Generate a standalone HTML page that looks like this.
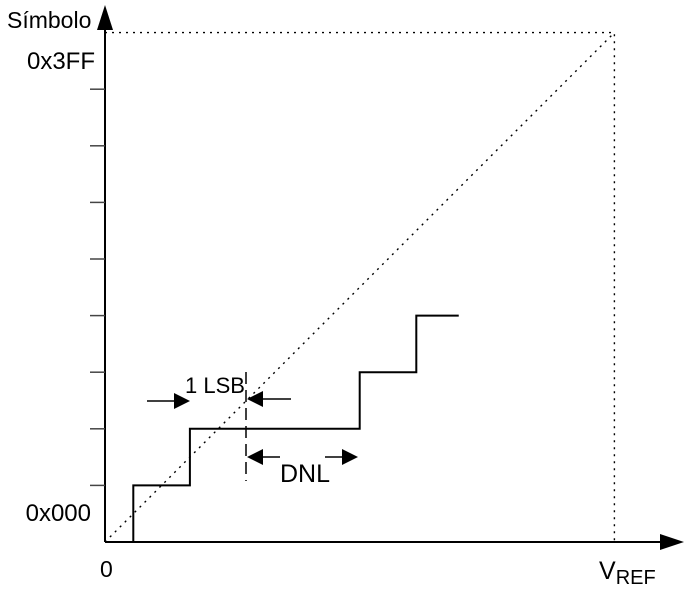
<!DOCTYPE html>
<html><head><meta charset="utf-8"><style>
html,body{margin:0;padding:0;background:#fff;}
svg{display:block;font-family:"Liberation Sans",sans-serif;}
</style></head><body>
<svg id="c" width="688" height="597" viewBox="0 0 688 597">
</svg>
<script>
const transitions = [0.5, 1.5, 4.5, 5.5];   // input (LSB units) where code steps
const codes = [0, 1, 2, 3, 4];               // output code levels
const stairEnd = 6.25;
const vref = 9;
const yTickCodes = [1, 2, 3, 4, 5, 6, 7, 8];

const X0 = 105, Y0 = 542, U = 56.6;
function x(v){ return X0 + v*U; }
function y(c){ return Y0 - c*U; }
const NS = 'http://www.w3.org/2000/svg';
const svg = document.getElementById('c');
function el(t, a, parent){ const e = document.createElementNS(NS, t); for (const k in a) e.setAttribute(k, a[k]); (parent||svg).appendChild(e); return e; }

const ref = el('path', {d:`M${x(0)},${y(0)} L${x(vref)},${y(vref)} M${x(0)},${y(vref)} H${x(vref)} V${y(0)}`, fill:'none', stroke:'#000', 'stroke-width':1.4, 'stroke-dasharray':'2 5'});



const ax = el('path', {d:`M${X0},${Y0} V28 M${X0},${Y0} H662`, stroke:'#000', 'stroke-width':2, fill:'none'});


el('polygon', {points:'97,30 113,30 105,5', fill:'#000'});
el('polygon', {points:'660,534 660,550 684,542', fill:'#000'});

yTickCodes.forEach(c => {
  const t = el('line', {x1:90, x2:X0, y1:y(c), y2:y(c), stroke:'#444', 'stroke-width':1.5});
  
  
});

let d = `M${x(transitions[0])},${y(codes[0])}`;
transitions.forEach((tv, i) => {
  d += ` V${y(codes[i+1])}`;
  const nx = i+1 < transitions.length ? transitions[i+1] : stairEnd;
  d += ` H${x(nx)}`;
});
const st = el('path', {d, fill:'none', stroke:'#000', 'stroke-width':2});



const dm = el('line', {x1:246, x2:246, y1:372, y2:481, stroke:'#000', 'stroke-width':1.5, 'stroke-dasharray':'12 6'});



function arrow(x1, x2, yy, name){
  const g = el('g', {});
  
  
  const dir = Math.sign(x2 - x1);
  el('line', {x1, x2:x2 - dir*14, y1:yy, y2:yy, stroke:'#000', 'stroke-width':1.5}, g);
  el('polygon', {points:`${x2},${yy} ${x2-dir*16},${yy-8} ${x2-dir*16},${yy+8}`, fill:'#000'}, g);
}
arrow(147, 190, 401, 'lsb-arrow-left');
arrow(291, 247, 399, 'lsb-arrow-right');
arrow(280, 247, 457, 'dnl-arrow-left');
arrow(325, 358, 457, 'dnl-arrow-right');

function txt(s, xx, yy, size, name, anchor){
  const t = el('text', {x:xx, y:yy, 'font-size':size, 'text-anchor':anchor||'start', fill:'#000'});
  t.textContent = s;
  
  
  return t;
}
txt('Símbolo', 7, 28, 23, 'y-axis-title');
txt('0x3FF', 95, 69, 24, 'y-label-max', 'end');
txt('0x000', 91, 521, 24, 'y-label-min', 'end');
txt('0', 100, 577, 23, 'x-label-zero');
const vr = txt('V', 599, 579, 25, 'x-label-vref');
const sub = el('tspan', {'font-size':20, dy:5}, vr); sub.textContent = 'REF';
txt('1 LSB', 185, 393, 22, 'lsb-label');
txt('DNL', 305, 482, 25, 'dnl-label', 'middle');
</script>
</body></html>
